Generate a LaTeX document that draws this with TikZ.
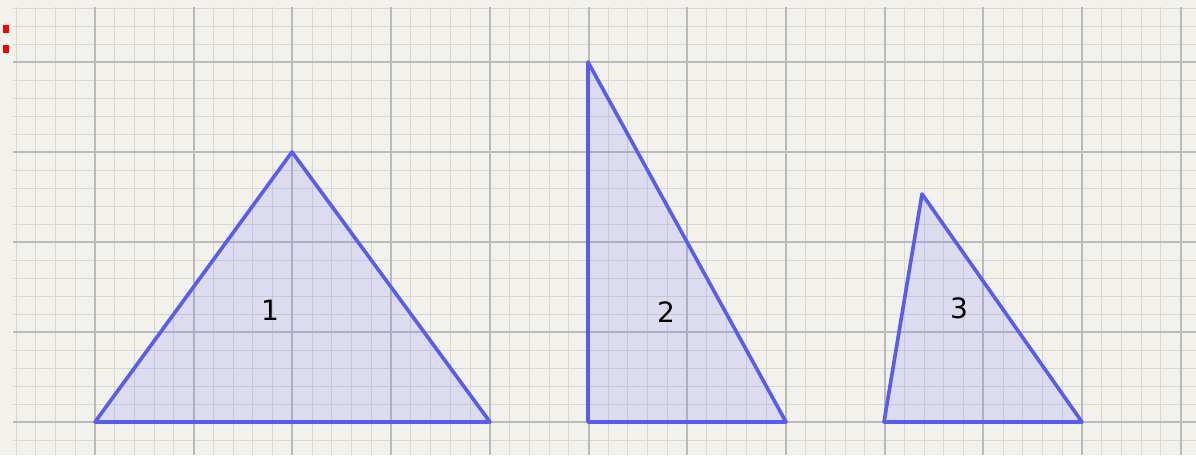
\documentclass[tikz,border=0pt]{standalone}
\usepackage{fontspec}
\setmainfont{DejaVu Sans}
\definecolor{paper}{RGB}{242,241,236}
\definecolor{minorc}{RGB}{216,215,212}
\definecolor{majorc}{RGB}{186,186,186}
\definecolor{triblue}{RGB}{88,92,240}
\definecolor{trifill}{RGB}{110,110,255}
\tikzset{
  minorgrid/.style={draw=minorc, line width=1pt},
  majorgrid/.style={draw=majorc, line width=2pt},
  tri/.style={draw=triblue, line width=3.6pt, line join=round, fill=trifill, fill opacity=0.16},
  lbl/.style={font=\fontsize{28}{32}\selectfont, text=black, inner sep=0pt},
  reddot/.style={fill=red, draw=none}
}
\begin{document}
\begin{tikzpicture}[x=1pt,y=-1pt]
\useasboundingbox (0,0) rectangle (1196,455);
\fill[paper] (0,0) rectangle (1196,455);
\begin{scope}
\clip (13,7) rectangle (1196,455);
\foreach \i in {-4,...,56} \draw[minorgrid] ({95+\i*19.74},7) -- ({95+\i*19.74},455);
\foreach \j in {-2,...,23} \draw[minorgrid] (13,{422-\j*18}) -- (1196,{422-\j*18});
\foreach \i in {0,...,11} \draw[majorgrid] ({95+\i*98.7},7) -- ({95+\i*98.7},455);
\foreach \j in {0,...,4} \draw[majorgrid] (13,{422-\j*90}) -- (1196,{422-\j*90});
\end{scope}
\fill[reddot] (3,25) rectangle (9,33);
\fill[reddot] (3,45) rectangle (9,53);
% triangle 1
\coordinate (a1) at (95,422);
\coordinate (b1) at (490,422);
\coordinate (c1) at (292,152);
\draw[tri] (a1) -- (b1) -- (c1) -- cycle;
\node[lbl] (t1) at (270,310) {1};
% triangle 2
\coordinate (a2) at (588,422);
\coordinate (b2) at (786,422);
\coordinate (c2) at (588,62);
\draw[tri] (a2) -- (b2) -- (c2) -- cycle;
\node[lbl] (t2) at (666,312) {2};
% triangle 3
\coordinate (a3) at (884,422);
\coordinate (b3) at (1082,422);
\coordinate (c3) at (922,194);
\draw[tri] (a3) -- (b3) -- (c3) -- cycle;
\node[lbl] (t3) at (959,308) {3};
\end{tikzpicture}
\end{document}
